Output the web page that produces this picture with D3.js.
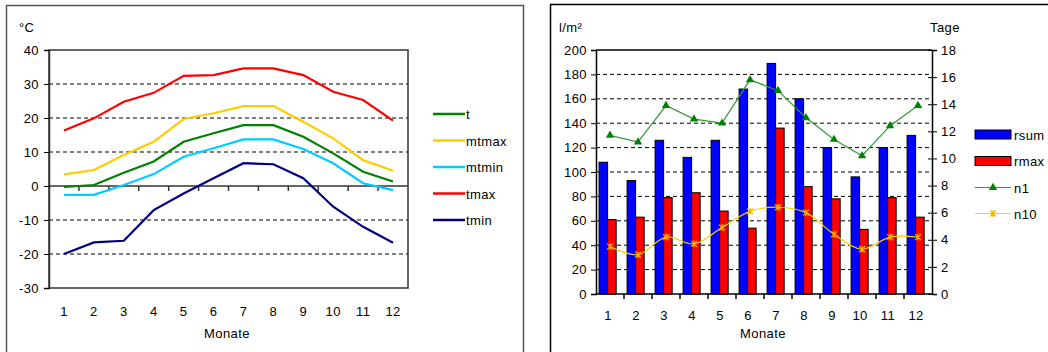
<!DOCTYPE html>
<html>
<head>
<meta charset="utf-8">
<script src="https://cdn.jsdelivr.net/npm/d3@7"></script>
<style>
  body { margin: 0; background: #fff; }
  text { font-family: "Liberation Sans", Arial, sans-serif; font-size: 13px; letter-spacing: 0.4px; fill: #000; }
</style>
</head>
<body>
<div class="chart"></div>
<script>
// data
const months = [1, 2, 3, 4, 5, 6, 7, 8, 9, 10, 11, 12];
const tempNames = ["t", "mtmax", "mtmin", "tmax", "tmin"];
const t     = [-0.3, 0.3, 3.9, 7.2, 13.0, 15.5, 17.9, 17.9, 14.5, 9.6, 4.2, 1.3];
const mtmax = [3.4, 4.7, 9.1, 13.0, 19.7, 21.4, 23.5, 23.5, 18.9, 14.0, 7.6, 4.5];
const mtmin = [-2.6, -2.6, 0.3, 3.5, 8.6, 11.1, 13.7, 13.7, 10.9, 6.7, 0.8, -1.2];
const tmax  = [16.3, 19.9, 24.8, 27.4, 32.4, 32.6, 34.6, 34.6, 32.6, 27.7, 25.3, 19.2];
const tmin  = [-20.0, -16.6, -16.1, -7.1, -2.2, 2.3, 6.7, 6.4, 2.3, -6.1, -12.0, -16.7];
const tempTicks = [-30, -20, -10, 0, 10, 20, 30, 40];

const rainNames = ["rsum", "rmax"];
const rsum = [108, 93, 126, 112, 126, 168, 189, 160, 120, 96, 120, 130];
const rmax = [61, 63, 79, 83, 68, 54, 136, 88, 78, 53, 79, 63];
const dayNames = ["n1", "n10"];
const n1  = [11.7, 11.2, 13.9, 12.9, 12.6, 15.8, 15.0, 13.0, 11.4, 10.2, 12.4, 13.9];
const n10 = [3.5, 2.9, 4.2, 3.7, 4.9, 6.1, 6.4, 6.0, 4.4, 3.3, 4.2, 4.2];
const rainTicks = [0, 20, 40, 60, 80, 100, 120, 140, 160, 180, 200];
const dayTicks = [0, 2, 4, 6, 8, 10, 12, 14, 16, 18];

const svg = d3.select(".chart").append("svg")
  .attr("width", 1048).attr("height", 352)
  .style("display", "block");

// panel frames
svg.append("rect").attr("x", 6.5).attr("y", 5.5).attr("width", 517).attr("height", 360)
  .attr("fill", "none").attr("stroke", "#555").attr("stroke-width", 1.5);
svg.append("rect").attr("x", 550.5).attr("y", 4.5).attr("width", 520).attr("height", 360)
  .attr("fill", "none").attr("stroke", "#000").attr("stroke-width", 1.5);

function styleText(sel) {
  sel.selectAll("text").style("font-size", "13px")
    .style("font-family", "Liberation Sans, Arial").style("letter-spacing", "0.4px");
}
const plain = d => String(d);

// ---------- left: temperatures ----------
const x1 = d3.scaleBand().domain(months).range([49, 408]);
const y1 = d3.scaleLinear().domain([-30, 40]).range([288, 50]);
const g1 = svg.append("g");

g1.selectAll(".grid").data([30, 20, 10, -10, -20]).enter().append("line")
  .attr("x1", 49).attr("x2", 408)
  .attr("y1", d => y1(d)).attr("y2", d => y1(d))
  .attr("stroke", "#000").attr("stroke-dasharray", "4,3");

g1.append("rect").attr("x", 49).attr("y", 50).attr("width", 359).attr("height", 238)
  .attr("fill", "none").attr("stroke", "#333").attr("stroke-width", 1.5);

const yAxis1 = g1.append("g").attr("transform", "translate(49,0)")
  .call(d3.axisLeft(y1).tickValues(tempTicks).tickFormat(plain).tickSize(5).tickPadding(5));
yAxis1.select(".domain").attr("stroke", "#333").attr("stroke-width", 1.5);
styleText(yAxis1);

// zero line with ticks between months
g1.append("line").attr("x1", 49).attr("x2", 408).attr("y1", y1(0)).attr("y2", y1(0))
  .attr("stroke", "#333").attr("stroke-width", 1.5);
g1.selectAll(".xt").data(months.slice(0, 11)).enter().append("line")
  .attr("x1", d => x1(d) + x1.bandwidth()).attr("x2", d => x1(d) + x1.bandwidth())
  .attr("y1", y1(0)).attr("y2", y1(0) + 5).attr("stroke", "#333").attr("stroke-width", 1.5);

const xAxis1 = g1.append("g").attr("transform", "translate(0,288)")
  .call(d3.axisBottom(x1).tickSize(0).tickPadding(19));
xAxis1.select(".domain").remove();
styleText(xAxis1);

g1.append("text").attr("x", 227).attr("y", 338).attr("text-anchor", "middle").text("Monate");
g1.append("text").attr("x", 19).attr("y", 32).text("°C");

const tempSeries = [t, mtmax, mtmin, tmax, tmin];
const tempColors = ["#008000", "#FFCC00", "#00CCFF", "#FF0000", "#000080"];
const line1 = d3.line().x((d, i) => x1(months[i]) + x1.bandwidth() / 2).y(d => y1(d));
tempSeries.forEach((s, k) => {
  g1.append("path").datum(s).attr("d", line1)
    .attr("fill", "none").attr("stroke", tempColors[k]).attr("stroke-width", 2.2);
});

const leg1 = g1.selectAll(".leg1").data(tempNames).enter().append("g")
  .attr("transform", (d, i) => `translate(433,${114 + i * 26.5})`);
leg1.append("line").attr("x1", 0).attr("x2", 32)
  .attr("stroke", (d, i) => tempColors[i]).attr("stroke-width", 2.5);
leg1.append("text").attr("x", 33).attr("y", 5).text(d => d);

// ---------- right: precipitation ----------
const x2 = d3.scaleBand().domain(months).range([596, 932]);
const yL = d3.scaleLinear().domain([0, 200]).range([294, 50]);
const yR = d3.scaleLinear().domain([0, 18]).range([294, 50]);
const sub = d3.scaleBand().domain(rainNames)
  .range([x2.bandwidth() * 0.11, x2.bandwidth() * 0.72]);
const g2 = svg.append("g");

g2.selectAll(".grid").data(rainTicks.slice(1, 10)).enter().append("line")
  .attr("x1", 596).attr("x2", 932)
  .attr("y1", d => yL(d)).attr("y2", d => yL(d))
  .attr("stroke", "#000").attr("stroke-dasharray", "4,3");

const rainSeries = [rsum, rmax];
const rainColors = ["#0000FF", "#FF0000"];
rainSeries.forEach((s, k) => {
  g2.selectAll(".bar" + k).data(s).enter().append("rect")
    .attr("x", (d, i) => x2(months[i]) + sub(rainNames[k]))
    .attr("y", d => yL(d))
    .attr("width", sub.bandwidth())
    .attr("height", d => yL(0) - yL(d))
    .attr("fill", rainColors[k]).attr("stroke", "#000").attr("stroke-width", 1);
});

g2.append("line").attr("x1", 596).attr("x2", 932).attr("y1", 50).attr("y2", 50)
  .attr("stroke", "#000").attr("stroke-width", 1.5);

const yAxisL = g2.append("g").attr("transform", "translate(596,0)")
  .call(d3.axisLeft(yL).tickValues(rainTicks).tickFormat(plain).tickSize(5).tickPadding(4));
yAxisL.select(".domain").attr("stroke", "#000").attr("stroke-width", 1.5);
styleText(yAxisL);

const yAxisR = g2.append("g").attr("transform", "translate(932,0)")
  .call(d3.axisRight(yR).tickValues(dayTicks).tickFormat(plain).tickSize(5).tickPadding(4));
yAxisR.select(".domain").attr("stroke", "#000").attr("stroke-width", 1.5);
yAxisR.selectAll(".tick line").attr("x1", -4);
styleText(yAxisR);

g2.append("line").attr("x1", 596).attr("x2", 932).attr("y1", 294).attr("y2", 294)
  .attr("stroke", "#000").attr("stroke-width", 1.5);
g2.selectAll(".xt").data(months.slice(0, 11)).enter().append("line")
  .attr("x1", d => x2(d) + x2.bandwidth()).attr("x2", d => x2(d) + x2.bandwidth())
  .attr("y1", 294).attr("y2", 299).attr("stroke", "#000").attr("stroke-width", 1.5);

const xAxis2 = g2.append("g").attr("transform", "translate(-2,294)")
  .call(d3.axisBottom(x2).tickSize(0).tickPadding(17));
xAxis2.select(".domain").remove();
styleText(xAxis2);

g2.append("text").attr("x", 763).attr("y", 338).attr("text-anchor", "middle").text("Monate");
g2.append("text").attr("x", 559).attr("y", 32).text("l/m²");
g2.append("text").attr("x", 930).attr("y", 32).text("Tage");

const cx2 = i => x2(months[i]) + x2.bandwidth() / 2;
const lineN1 = d3.line().x((d, i) => cx2(i)).y(d => yR(d));
const lineN10 = d3.line().x((d, i) => cx2(i)).y(d => yR(d)).curve(d3.curveCatmullRom);

const green = "#008000", gold = "#FFCC00";
const tri = d3.symbol(d3.symbolTriangle).size(30);
function star(sel, color) {
  sel.append("path").attr("d", "M-3,-3L3,3M-3,3L3,-3M0,-3.5L0,3.5")
    .attr("stroke", color).attr("stroke-width", 1.2).attr("fill", "none");
}

g2.append("path").datum(n1).attr("d", lineN1)
  .attr("fill", "none").attr("stroke", "#339933").attr("stroke-width", 1.2);
g2.selectAll(".m1").data(n1).enter().append("path")
  .attr("d", tri).attr("transform", (d, i) => `translate(${cx2(i)},${yR(d)})`)
  .attr("fill", green);

g2.append("path").datum(n10).attr("d", lineN10)
  .attr("fill", "none").attr("stroke", gold).attr("stroke-width", 1.2);
n10.forEach((d, i) => {
  star(g2.append("g").attr("transform", `translate(${cx2(i)},${yR(d)})`), "#E6B800");
});

// legend right
const leg2 = g2.selectAll(".leg2").data(rainNames).enter().append("g")
  .attr("transform", (d, i) => `translate(975,${130 + i * 26.5})`);
leg2.append("rect").attr("width", 36).attr("height", 9)
  .attr("fill", (d, i) => rainColors[i]).attr("stroke", "#000");
leg2.append("text").attr("x", 39).attr("y", 9.5).text(d => d);

const leg3 = g2.selectAll(".leg3").data(dayNames).enter().append("g")
  .attr("transform", (d, i) => `translate(975,${187.5 + i * 26})`);
leg3.append("line").attr("x1", 0).attr("x2", 36)
  .attr("stroke", (d, i) => i === 0 ? "#339933" : gold).attr("stroke-width", 1.2);
leg3.filter((d, i) => i === 0).append("path").attr("d", tri)
  .attr("transform", "translate(18,0)").attr("fill", green);
leg3.filter((d, i) => i === 1).each(function () {
  star(d3.select(this).append("g").attr("transform", "translate(18,0)"), "#E6B800");
});
leg3.append("text").attr("x", 39).attr("y", 5).text(d => d);
</script>
</body>
</html>
